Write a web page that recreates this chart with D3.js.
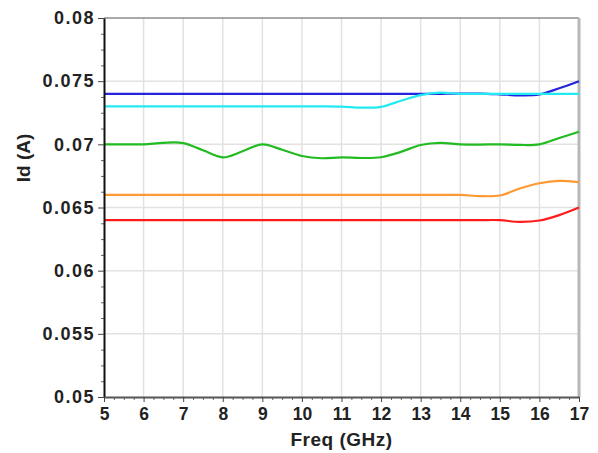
<!DOCTYPE html>
<html>
<head>
<meta charset="utf-8">
<script src="https://cdn.jsdelivr.net/npm/d3@7"></script>
<style>
  html, body { margin: 0; padding: 0; background: #fff; }
  svg { display: block; }
  text { font-family: "Liberation Sans", Arial, sans-serif; font-weight: bold; fill: #222; }
</style>
</head>
<body>
<svg id="chart" width="598" height="453"></svg>
<script>
// Frequency sweep (GHz) and drain current (A) for each bias trace
const freq = [5, 5.5, 6, 6.5, 7, 7.5, 8, 8.5, 9, 9.5, 10, 10.5, 11, 11.5, 12, 12.5, 13, 13.5, 14, 14.5, 15, 15.5, 16, 16.5, 17];

const idBlue   = [0.0740, 0.0740, 0.0740, 0.0740, 0.0740, 0.0740, 0.0740, 0.0740, 0.0740, 0.0740, 0.0740, 0.0740, 0.0740, 0.0740, 0.0740, 0.0740, 0.0740, 0.0740, 0.07402, 0.07402, 0.07396, 0.07388, 0.07395, 0.07444, 0.0750];
const idCyan   = [0.0730, 0.0730, 0.0730, 0.0730, 0.0730, 0.0730, 0.0730, 0.0730, 0.0730, 0.0730, 0.0730, 0.0730, 0.07298, 0.0729, 0.07297, 0.07345, 0.0739, 0.07409, 0.0740, 0.0740, 0.0740, 0.0740, 0.0740, 0.0740, 0.0740];
const idGreen  = [0.0700, 0.0700, 0.0700, 0.07012, 0.07010, 0.06953, 0.06897, 0.06945, 0.0700, 0.06957, 0.06908, 0.06890, 0.06897, 0.06892, 0.06898, 0.0694, 0.06995, 0.07012, 0.0700, 0.06998, 0.0700, 0.06995, 0.0700, 0.0705, 0.0710];
const idOrange = [0.0660, 0.0660, 0.0660, 0.0660, 0.0660, 0.0660, 0.0660, 0.0660, 0.0660, 0.0660, 0.0660, 0.0660, 0.0660, 0.0660, 0.0660, 0.0660, 0.0660, 0.0660, 0.0660, 0.06590, 0.06595, 0.06650, 0.06692, 0.0671, 0.0670];
const idRed    = [0.0640, 0.0640, 0.0640, 0.0640, 0.0640, 0.0640, 0.0640, 0.0640, 0.0640, 0.0640, 0.0640, 0.0640, 0.0640, 0.0640, 0.0640, 0.0640, 0.0640, 0.0640, 0.0640, 0.0640, 0.0640, 0.06386, 0.06397, 0.0644, 0.0650];

const xTicks = [5, 6, 7, 8, 9, 10, 11, 12, 13, 14, 15, 16, 17];
const yTicks = [0.05, 0.055, 0.06, 0.065, 0.07, 0.075, 0.08];
const yTickLabels = ["0.05", "0.055", "0.06", "0.065", "0.07", "0.075", "0.08"];

const series = [
  { name: "blue",   values: idBlue,   color: "#2424e0" },
  { name: "cyan",   values: idCyan,   color: "#22eaf2" },
  { name: "green",  values: idGreen,  color: "#22bb22" },
  { name: "orange", values: idOrange, color: "#ff9933" },
  { name: "red",    values: idRed,    color: "#ff1c1c" }
];

const svg = d3.select("#chart");
svg.append("rect").attr("width", 598).attr("height", 453).attr("fill", "#fff");

const x = d3.scaleLinear().domain([5, 17]).range([104, 579]);
const y = d3.scaleLinear().domain([0.05, 0.08]).range([397, 18]);

// grid
const grid = svg.append("g");
grid.selectAll(".vg").data(xTicks.slice(1, -1)).join("line")
  .attr("x1", d => x(d)).attr("x2", d => x(d))
  .attr("y1", y(0.08)).attr("y2", y(0.05))
  .attr("stroke", "#e2e2e2").attr("stroke-width", 1.5);
grid.selectAll(".hg").data(yTicks.slice(1, -1)).join("line")
  .attr("x1", x(5)).attr("x2", x(17))
  .attr("y1", d => y(d)).attr("y2", d => y(d))
  .attr("stroke", "#e2e2e2").attr("stroke-width", 1.5);

// frame: top and right edges
svg.append("line").attr("x1", x(5)).attr("x2", x(17)).attr("y1", y(0.08)).attr("y2", y(0.08))
  .attr("stroke", "#555").attr("stroke-width", 1);
svg.append("line").attr("x1", x(17)).attr("x2", x(17)).attr("y1", y(0.08)).attr("y2", y(0.05))
  .attr("stroke", "#b8b8b8").attr("stroke-width", 3);

// traces
const line = d3.line()
  .x((d, i) => x(freq[i]))
  .y(d => y(d))
  .curve(d3.curveCatmullRom.alpha(0.5));

svg.append("g").selectAll("path").data(series).join("path")
  .attr("d", s => line(s.values))
  .attr("fill", "none")
  .attr("stroke", s => s.color)
  .attr("stroke-width", 2.2)
  .attr("stroke-linejoin", "round");

// minor ticks
const yMinor = d3.range(0, 25).map(i => 0.05 + i * 0.00125).filter(v => !yTicks.some(t => Math.abs(t - v) < 1e-9));
const xMinor = d3.range(0, 49).map(i => 5 + i * 0.25).filter(v => !xTicks.includes(v));

svg.append("g").attr("transform", `translate(${x(5)},0)`)
  .call(d3.axisLeft(y).tickValues(yMinor).tickSize(3).tickFormat(""))
  .call(g => g.select(".domain").remove())
  .call(g => g.selectAll("line").attr("stroke", "#666"));
svg.append("g").attr("transform", `translate(0,${y(0.05)})`)
  .call(d3.axisBottom(x).tickValues(xMinor).tickSize(3).tickFormat(""))
  .call(g => g.select(".domain").remove())
  .call(g => g.selectAll("line").attr("stroke", "#666"));

// y axis
svg.append("g").attr("transform", `translate(${x(5)},0)`)
  .call(d3.axisLeft(y).tickValues(yTicks).tickSize(6).tickPadding(3)
    .tickFormat((d, i) => yTickLabels[i]).tickSizeOuter(0))
  .call(g => g.select(".domain").attr("stroke", "#111").attr("stroke-width", 2))
  .call(g => g.selectAll("line").attr("stroke", "#444"))
  .call(g => g.selectAll("text").attr("fill", "#222")
    .style("font-size", "18px").style("font-weight", "bold")
    .style("letter-spacing", "1.5px")
    .style("font-family", "'Liberation Sans', Arial, sans-serif"));

// x axis
svg.append("g").attr("transform", `translate(0,${y(0.05)})`)
  .call(d3.axisBottom(x).tickValues(xTicks).tickSize(5).tickPadding(6).tickSizeOuter(0))
  .call(g => g.select(".domain").attr("stroke", "#555").attr("stroke-width", 2))
  .call(g => g.selectAll("line").attr("stroke", "#444"))
  .call(g => g.selectAll("text").attr("fill", "#222")
    .style("font-size", "17.5px").style("font-weight", "bold")
    .style("font-family", "'Liberation Sans', Arial, sans-serif"));

// axis titles
svg.append("text").attr("x", (x(5) + x(17)) / 2).attr("y", 446)
  .attr("text-anchor", "middle").style("font-size", "19px").style("letter-spacing", "0.5px")
  .text("Freq (GHz)");
svg.append("text").attr("transform", "translate(30,158) rotate(-90)")
  .attr("text-anchor", "middle").style("font-size", "19px")
  .text("Id (A)");
</script>
</body>
</html>
